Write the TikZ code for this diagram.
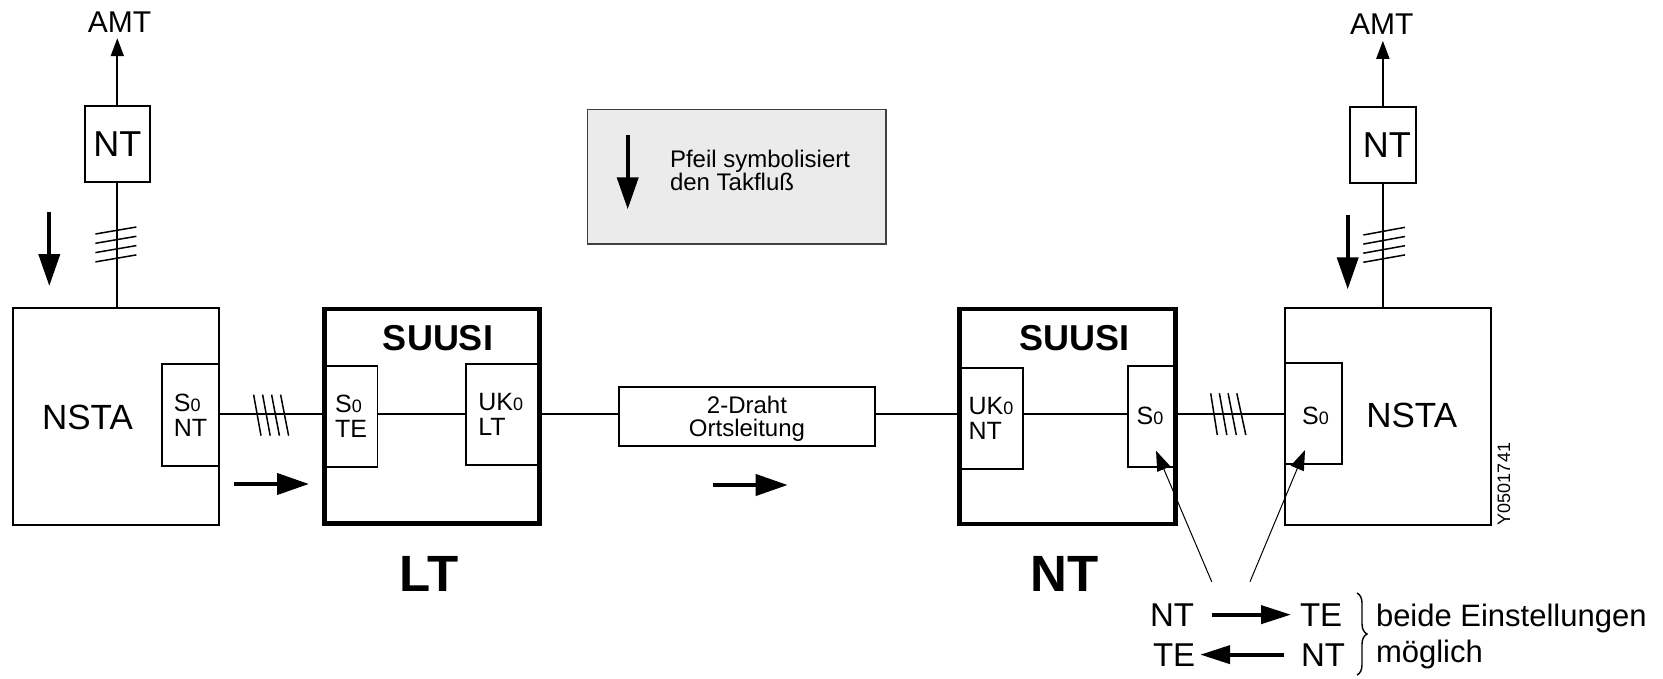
\documentclass[tikz,border=0pt]{standalone}
\usepackage{fontspec}
\setmainfont{Liberation Sans}
\usetikzlibrary{arrows.meta,fit,decorations.pathreplacing}
\newcommand{\fsz}[2]{\fontsize{#1pt}{#2pt}\selectfont}
\newcommand{\nought}{{\fsz{9}{10}0}}
\begin{document}
\begin{tikzpicture}[x=0.5pt,y=-0.5pt,
  thinbox/.style={draw, line width=0.9pt, inner sep=0pt, outer sep=0pt},
  thickbox/.style={draw, line width=2.4pt, inner sep=0pt, outer sep=0pt},
  wire/.style={line width=0.9pt},
  hatch/.style={line width=0.75pt},
  flow/.style={line width=2pt, -{Triangle[length=16pt,width=10.5pt]}},
  flowsmall/.style={line width=2pt, -{Triangle[length=15pt,width=9pt]}},
  uplink/.style={line width=0.9pt, -{Triangle[length=9pt,width=6.5pt]}},
  pointer/.style={line width=0.5pt, -{Triangle[length=10pt,width=7pt]}},
  txt/.style={inner sep=0pt, outer sep=0pt},
  port/.style={txt, align=left, font=\fsz{12.5}{12.5}},
  title/.style={txt, font=\fsz{18}{20}\bfseries},
  big/.style={txt, font=\fsz{25.5}{28}\bfseries},
  setting/.style={txt, anchor=base west, font=\fsz{16.5}{18}},
]
\useasboundingbox (0,0) rectangle (1663,679);
\coordinate (w) at (0,413.6);

% ---------- left exchange with its network termination ----------
\node[thinbox, fit={(84.6,106.4)(150,182)}] (ntL) {};
\node[txt, font=\fsz{18}{20}] (ntLt) at (ntL.center) {NT};
\node[txt, font=\fsz{15}{18}] (amtL) at (119.6,21.9) {AMT};
\draw[uplink] (ntL.north) -- ([yshift=-3pt]ntL.north |- amtL.south);
\node[thinbox, fit={(13,308)(219,525)}] (nstaL) {};
\node[txt, font=\fsz{17.5}{20}] (nstaLt) at (87.5,417) {NSTA};
\draw[wire] (ntL.south) -- (ntL.south |- nstaL.north);
\foreach \i in {0,...,3}
  \draw[hatch] (95.4,234+9.3*\i) -- (136.4,227+9.3*\i);
\draw[flow] (49.3,212) -- (49.3,286);
\node[thinbox, fit={(162,364)(219,466)}] (s0ntL) {};
\node[port] (s0ntLt) at (s0ntL.center) {S\nought\\NT};

% ---------- SUUSI on the line-termination side ----------
\node[thickbox, fit={(324.6,309)(539.6,523.6)}] (suusiL) {};
\node[title] (suusiLt) at (438,338.4) {SUUSI};
\node[thinbox, fit={(324.6,366)(377.5,467)}] (s0teL) {};
\node[port] (s0teLt) at (s0teL.center) {S\nought\\TE};
\node[thinbox, fit={(466,363.6)(539.6,465)}] (uk0L) {};
\node[port] (uk0Lt) at ([xshift=-1pt]uk0L.center) {UK\nought\\LT};
\node[big] (ltlabel) at (429,573.6) {LT};

\draw[wire] (s0ntL.east |- w) -- (suusiL.west |- w);
\foreach \i in {0,...,3}
  \draw[hatch] (253.6+9*\i,394.6) -- (261+9.2*\i,435.7);
\draw[flow] (234,484) -- (309,484);
\draw[wire] (s0teL.east |- w) -- (uk0L.west |- w);

% ---------- local loop ----------
\node[thinbox, fit={(619.3,387.3)(875,446)}] (draht) {};
\node[txt, align=center, font=\fsz{12}{11.7}] (drahtt) at (747,418.5) {2-Draht\\Ortsleitung};
\draw[wire] (suusiL.east |- w) -- (draht.west |- w);
\draw[flow] (713.3,485) -- (787.7,485);

% ---------- SUUSI on the network-termination side ----------
\node[thickbox, fit={(959.4,309)(1175.5,524)}] (suusiN) {};
\node[title] (suusiNt) at (1074,338.4) {SUUSI};
\node[thinbox, fit={(959.4,367.7)(1022.6,469)}] (uk0N) {};
\node[port] (uk0Nt) at (uk0N.center) {UK\nought\\NT};
\node[thinbox, fit={(1127.7,366)(1175.5,467.3)}] (s0N) {};
\node[txt, font=\fsz{12.5}{12.5}] (s0Nt) at (1150,415.5) {S\nought};
\node[big] (ntlabel) at (1064.4,573.6) {NT};

\draw[wire] (draht.east |- w) -- (suusiN.west |- w);
\draw[wire] (uk0N.east |- w) -- (s0N.west |- w);

% ---------- right exchange ----------
\node[thinbox, fit={(1350,106.7)(1415.7,182.7)}] (ntR) {};
\node[txt, font=\fsz{18}{20}] (ntRt) at ([xshift=2pt]ntR.center) {NT};
\node[txt, font=\fsz{15}{18}] (amtR) at (1381.7,24.5) {AMT};
\draw[uplink] (ntR.north) -- ([yshift=-3pt]ntR.north |- amtR.south);
\node[thinbox, fit={(1285,308.3)(1490.7,525)}] (nstaR) {};
\node[txt, font=\fsz{17.5}{20}] (nstaRt) at (1411.7,415.5) {NSTA};
\draw[wire] (ntR.south) -- (ntR.south |- nstaR.north);
\foreach \i in {0,...,3}
  \draw[hatch] (1363.3,235+9.1*\i) -- (1405,227.3+9.2*\i);
\draw[flow] (1347.7,215) -- (1347.7,289.3);
\node[thinbox, fit={(1285,362.7)(1341.7,464)}] (s0R) {};
\node[txt, font=\fsz{12.5}{12.5}] (s0Rt) at (1315.5,415.5) {S\nought};

\draw[wire] (suusiN.east |- w) -- (s0R.west |- w);
\foreach \i in {0,...,3}
  \draw[hatch] (1210.7+8.7*\i,393.3) -- (1217.3+9.5*\i,435);

\node[txt, rotate=90, font=\fsz{9}{10}] (code) at (1504,484) {Y0501741};

% ---------- legend ----------
\node[draw=black!75, fill=black!8, line width=0.65pt, inner sep=0pt,
      fit={(587.3,109.3)(886,244)}] (legend) {};
\draw[flow] (627.7,135) -- (627.7,209.3);
\node[txt, anchor=west, align=left, font=\fsz{12}{11.35}] (legendt) at (670,170.3)
  {Pfeil symbolisiert\\den Takflu\ss};

% ---------- selectable clock direction ----------
\coordinate (p1) at (1211.7,581.7);
\coordinate (p2) at (1250,581.7);
\draw[pointer] (p1) -- ([shift={(-19.5,-16.6)}]s0N.south east);
\draw[pointer] (p2) -- ([shift={(20,-14)}]s0R.south west);

\node[setting] (a1) at (1150,626) {NT};
\node[setting] (b1) at (1300,626) {TE};
\node[setting] (a2) at (1153,666) {TE};
\node[setting] (b2) at (1301,666) {NT};
\draw[flowsmall] ([xshift=9pt]a1.east) -- ([xshift=-4.5pt]b1.west);
\draw[flowsmall] ([xshift=-8.5pt]b2.west) -- ([xshift=2.5pt]a2.east);
\draw[line width=0.7pt, decorate, decoration={brace, amplitude=5pt}]
  (1357,593) -- (1357,675);
\node[txt, anchor=base west, font=\fsz{15.5}{18}] (note1) at (1376,626) {beide Einstellungen};
\node[txt, anchor=base west, font=\fsz{15.5}{18}] (note2) at (1376,662) {möglich};
\end{tikzpicture}
\end{document}
